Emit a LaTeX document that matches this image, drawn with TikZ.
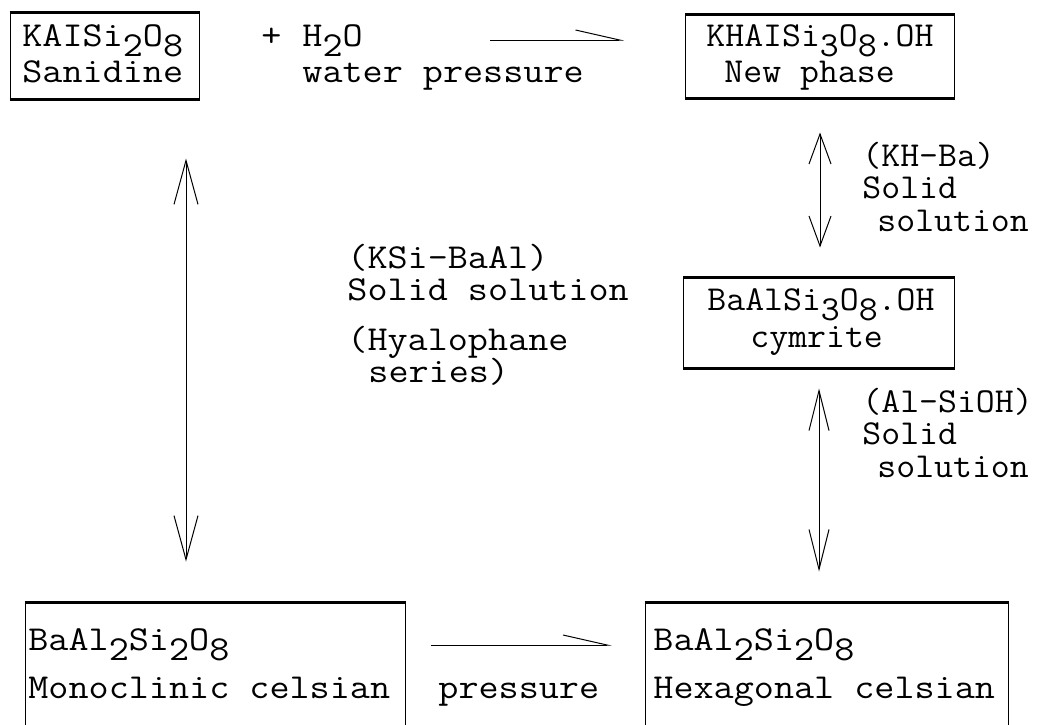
\documentclass[tikz,border=0pt]{standalone}
\usepackage{fontspec}
\newfontfamily\tw{Latin Modern Mono}[FakeStretch=1.115]
\newfontfamily\twn{Latin Modern Mono}[FakeStretch=1.05]
\usetikzlibrary{arrows.meta}
\newcommand{\dn}[1]{\raisebox{-5pt}{#1}}
\tikzset{
  txt/.style={anchor=base west, inner sep=0pt, font=\tw\fontsize{17.5}{16}\selectfont},
  txtn/.style={anchor=base west, inner sep=0pt, font=\twn\fontsize{17.5}{16}\selectfont},
  boxst/.style={draw, line width=0.5pt, inner sep=0pt},
  edge/.style={line width=1.1pt},
  harp/.style={line width=0.5pt, -{Straight Barb[harpoon,length=22pt,width=10pt]}},
  dbl/.style={line width=0.5pt}
}
\begin{document}
\begin{tikzpicture}[x=0.5pt,y=-0.5pt]
\useasboundingbox (0,0) rectangle (1037,724);
\clip (0,0) rectangle (1037,724);
% boxes
\node[boxst, minimum width=94.5pt, minimum height=43pt] (A) at (104.5,56) {};
\node[boxst, minimum width=134.5pt, minimum height=41.5pt] (B) at (820,56.5) {};
\node[boxst, minimum width=135.5pt, minimum height=45pt] (C) at (819,323) {};
\node[boxst, minimum width=190pt, minimum height=80pt] (D) at (215,683) {};
\node[boxst, minimum width=181.5pt, minimum height=80pt] (E) at (826.5,683) {};
\foreach \b in {A,B,C}{
  \draw[edge] (\b.north west) -- (\b.north east);
  \draw[edge] (\b.south west) -- (\b.south east);
}
\foreach \b in {D,E}{
  \draw[edge] (\b.north west) -- (\b.north east);
}
% texts
\node[txt] (a1) at (22,46) {KAISi\dn2O\dn8};
\node[txt] (a2) at (22,82) {Sanidine};
\node[txt] (plus) at (261,46) {+};
\node[txt] (h2o) at (302,46) {H\dn2O};
\node[txt] (wp) at (302,82) {water pressure};
\node[txtn] (b1) at (706,46) {KHAISi\dn3O\dn8.OH};
\node[txtn] (b2) at (724,82) {New phase};
\node[txtn] (k1) at (862,166) {(KH-Ba)};
\node[txtn] (k2) at (862,198) {Solid};
\node[txtn] (k3) at (877,231) {solution};
\node[txtn] (c1) at (707,310) {BaAlSi\dn3O\dn8.OH};
\node[txtn] (c2) at (750,347) {cymrite};
\node[txtn] (s1) at (862,412) {(Al-SiOH)};
\node[txtn] (s2) at (862,444) {Solid};
\node[txtn] (s3) at (877,477) {solution};
\node[txt] (m1) at (347,268) {(KSi-BaAl)};
\node[txt] (m2) at (347,300) {Solid solution};
\node[txt] (m3) at (347,350) {(Hyalophane};
\node[txt] (m4) at (368,382) {series)};
\node[txt] (d1) at (28,650) {BaAl\dn2Si\dn2O\dn8};
\node[txt] (d2) at (28,698) {Monoclinic celsian};
\node[txt] (pr) at (438,698) {pressure};
\node[txt] (e1) at (653,650) {BaAl\dn2Si\dn2O\dn8};
\node[txt] (e2) at (653,698) {Hexagonal celsian};
% connectors
\coordinate (LX) at (186,0);
\coordinate (TA) at (490,40);
\coordinate (BA) at (0,645);
\draw[harp] (TA) -- ([xshift=-30.5pt]TA -| B.west);
\draw[harp, shorten <=12.5pt, shorten >=16.5pt] (D.east |- BA) -- (E.west |- BA);
\draw[dbl, {Straight Barb[length=22pt,width=12pt]}-{Straight Barb[length=22pt,width=12pt]}, shorten <=29.5pt, shorten >=20.5pt] (A.south -| LX) -- (D.north -| LX);
\draw[dbl, {Straight Barb[length=15pt,width=11pt]}-{Straight Barb[length=15pt,width=11pt]}, shorten <=17pt, shorten >=15pt] (B.south) -- (B.south |- C.north);
\draw[dbl, {Straight Barb[length=20pt,width=10pt]}-{Straight Barb[length=20pt,width=10pt]}, shorten <=10pt, shorten >=15.5pt] (C.south) -- (C.south |- E.north);
\end{tikzpicture}
\end{document}
